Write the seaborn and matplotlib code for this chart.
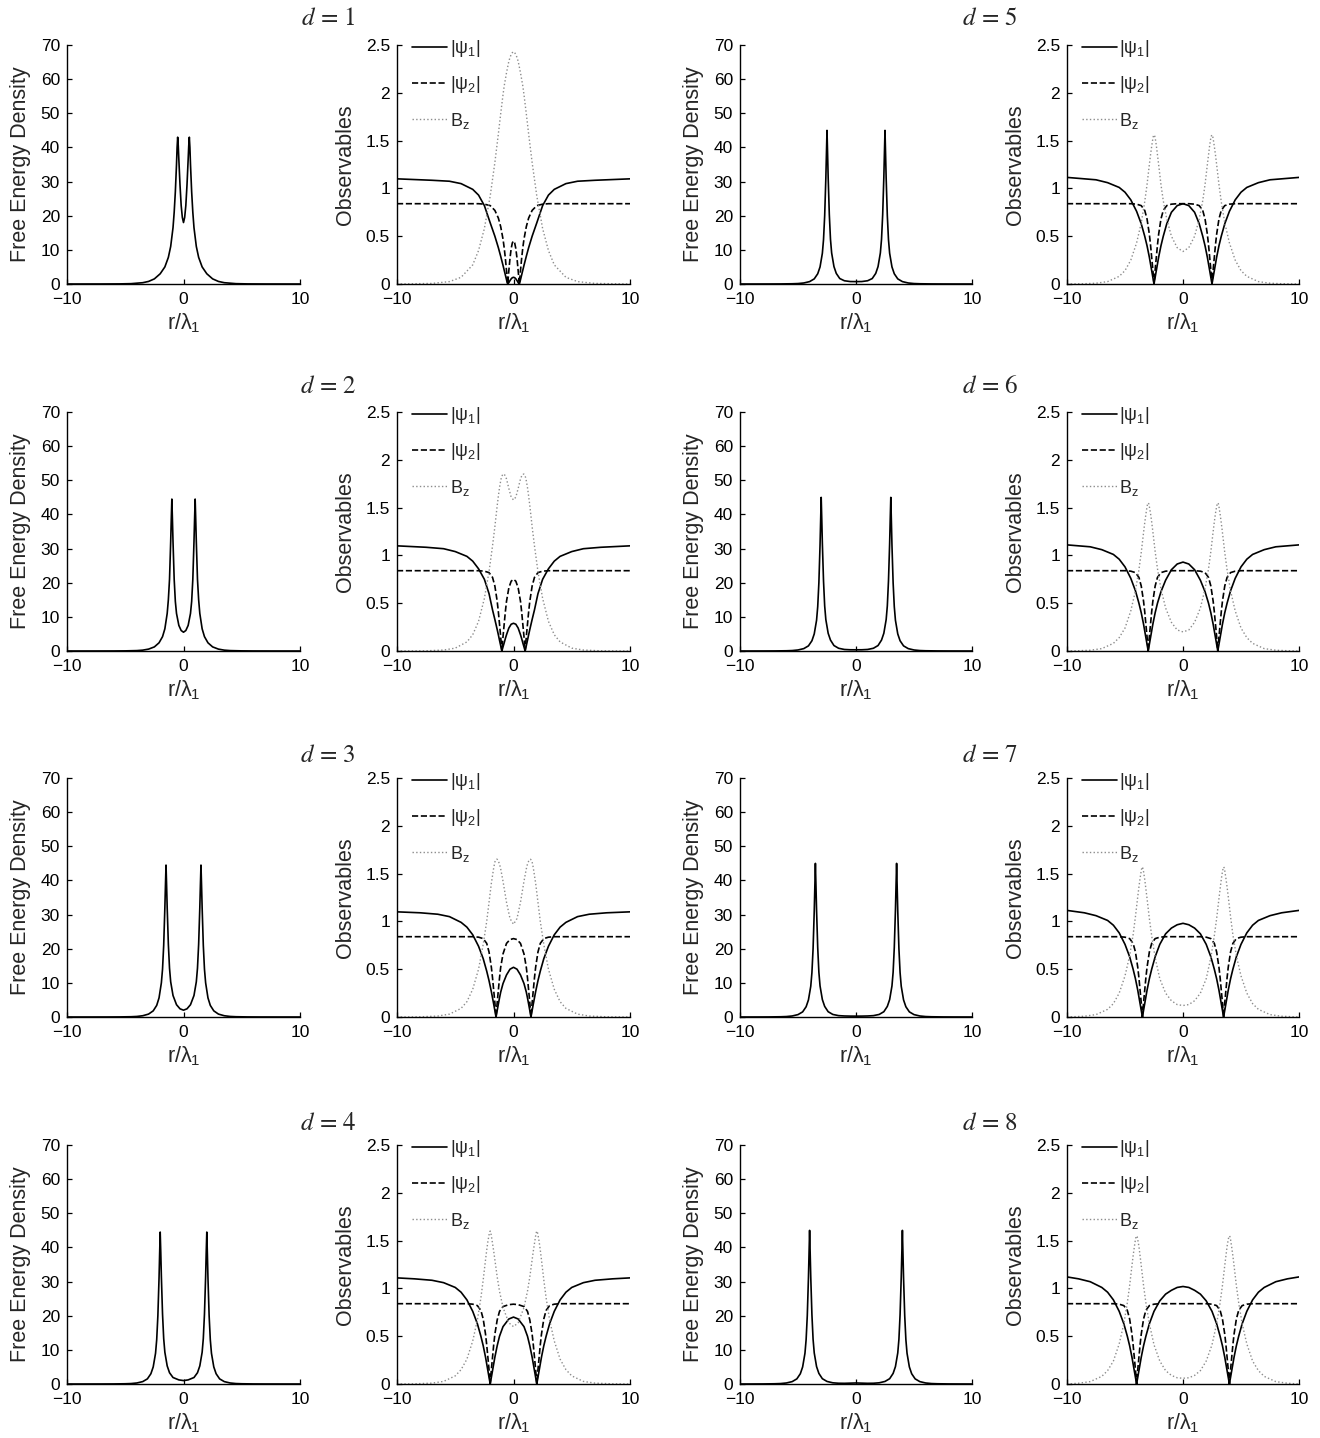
import numpy as np
import matplotlib
matplotlib.use("Agg")
import matplotlib.pyplot as plt
import matplotlib.ticker as mticker
import seaborn as sns

# ---------------- data: half profiles (r >= 0); each panel is mirror-symmetric ----------------
d_values = [1, 2, 3, 4, 5, 6, 7, 8]

r_d1 = [0, 0.1, 0.2, 0.3, 0.4, 0.45, 0.5, 0.55, 0.6, 0.7, 0.8, 0.9, 1.1, 1.3, 1.6, 2.0, 2.5, 3.0, 3.5, 4.5, 5.5, 7.0, 10.0]
fed_d1 = [18, 19.5, 23, 29, 36.5, 40.5, 43, 40, 35, 27, 21, 16.5, 11, 7.8, 5.0, 3.0, 1.5, 0.75, 0.38, 0.1, 0.03, 0.008, 0]
psi1_d1 = [0.07, 0.066, 0.054, 0.036, 0.015, 0.006, 0, 0.02, 0.045, 0.095, 0.145, 0.195, 0.29, 0.38, 0.5, 0.64, 0.82, 0.93, 0.99, 1.05, 1.075, 1.085, 1.1]
psi2_d1 = [0.45, 0.43, 0.37, 0.27, 0.14, 0.07, 0, 0.07, 0.14, 0.27, 0.38, 0.47, 0.6, 0.69, 0.77, 0.82, 0.835, 0.84, 0.84, 0.84, 0.84, 0.84, 0.84]
bz_d1 = [2.43, 2.42, 2.40, 2.37, 2.33, 2.30, 2.27, 2.24, 2.21, 2.14, 2.07, 1.98, 1.78, 1.57, 1.27, 0.92, 0.58, 0.35, 0.2, 0.07, 0.025, 0.006, 0]

r_d2 = [0, 0.2, 0.4, 0.6, 0.7, 0.8, 0.9, 0.95, 1.0, 1.05, 1.1, 1.2, 1.3, 1.4, 1.6, 1.8, 2.1, 2.5, 3.0, 3.5, 4.0, 5.0, 6.0, 7.5, 10.0]
fed_d2 = [5.5, 6.0, 7.5, 11, 14.5, 21, 32, 38.5, 44.5, 38.5, 32, 21, 15, 11, 6.5, 4.2, 2.4, 1.2, 0.55, 0.25, 0.12, 0.04, 0.012, 0.003, 0]
psi1_d2 = [0.29, 0.28, 0.24, 0.17, 0.13, 0.085, 0.043, 0.021, 0, 0.028, 0.056, 0.112, 0.17, 0.225, 0.33, 0.43, 0.6, 0.75, 0.86, 0.94, 0.99, 1.04, 1.07, 1.085, 1.1]
psi2_d2 = [0.75, 0.73, 0.66, 0.52, 0.41, 0.28, 0.15, 0.075, 0, 0.075, 0.15, 0.28, 0.41, 0.52, 0.68, 0.77, 0.82, 0.835, 0.84, 0.84, 0.84, 0.84, 0.84, 0.84, 0.84]
bz_d2 = [1.58, 1.61, 1.7, 1.8, 1.83, 1.85, 1.85, 1.84, 1.83, 1.81, 1.78, 1.71, 1.62, 1.52, 1.3, 1.1, 0.83, 0.55, 0.31, 0.17, 0.095, 0.03, 0.01, 0.002, 0]

r_d3 = [0, 0.3, 0.6, 0.9, 1.1, 1.2, 1.3, 1.4, 1.45, 1.5, 1.55, 1.6, 1.7, 1.8, 1.9, 2.1, 2.3, 2.6, 3.0, 3.5, 4.0, 4.5, 5.5, 6.5, 8.0, 10.0]
fed_d3 = [2.0, 2.4, 3.6, 6.3, 10.3, 14.3, 21.3, 32, 38.5, 44.5, 38.5, 32, 21, 14, 10, 5.6, 3.4, 1.8, 0.85, 0.37, 0.16, 0.08, 0.025, 0.008, 0.002, 0]
psi1_d3 = [0.52, 0.5, 0.44, 0.35, 0.26, 0.2, 0.135, 0.068, 0.034, 0, 0.034, 0.068, 0.135, 0.2, 0.265, 0.38, 0.48, 0.61, 0.74, 0.86, 0.94, 0.99, 1.05, 1.075, 1.09, 1.1]
psi2_d3 = [0.82, 0.81, 0.77, 0.66, 0.52, 0.41, 0.28, 0.15, 0.075, 0, 0.075, 0.15, 0.28, 0.41, 0.52, 0.68, 0.77, 0.82, 0.835, 0.84, 0.84, 0.84, 0.84, 0.84, 0.84, 0.84]
bz_d3 = [0.97, 1.03, 1.2, 1.42, 1.55, 1.6, 1.63, 1.65, 1.65, 1.645, 1.64, 1.62, 1.56, 1.48, 1.4, 1.2, 1.0, 0.76, 0.5, 0.29, 0.16, 0.09, 0.03, 0.01, 0.002, 0]

r_d4 = [0, 0.4, 0.9, 1.2, 1.4, 1.6, 1.7, 1.8, 1.9, 1.95, 2.0, 2.05, 2.1, 2.2, 2.3, 2.4, 2.6, 2.8, 3.1, 3.5, 4.0, 4.5, 5.0, 6.0, 7.0, 8.5, 10.0]
fed_d4 = [1.0, 1.2, 1.9, 3.3, 5.3, 9.3, 13.3, 20.5, 31.5, 38.5, 44.5, 38, 31, 20, 13, 9, 5.0, 3.0, 1.5, 0.7, 0.3, 0.13, 0.07, 0.02, 0.007, 0.002, 0]
psi1_d4 = [0.7, 0.68, 0.6, 0.5, 0.4, 0.28, 0.21, 0.14, 0.07, 0.035, 0, 0.035, 0.07, 0.14, 0.21, 0.28, 0.4, 0.5, 0.63, 0.76, 0.88, 0.96, 1.01, 1.06, 1.085, 1.1, 1.11]
psi2_d4 = [0.835, 0.83, 0.81, 0.76, 0.67, 0.52, 0.41, 0.28, 0.15, 0.075, 0, 0.075, 0.15, 0.28, 0.41, 0.52, 0.68, 0.77, 0.82, 0.835, 0.84, 0.84, 0.84, 0.84, 0.84, 0.84, 0.84]
bz_d4 = [0.6, 0.64, 0.8, 0.97, 1.12, 1.3, 1.39, 1.47, 1.55, 1.58, 1.6, 1.59, 1.56, 1.49, 1.4, 1.3, 1.09, 0.9, 0.67, 0.45, 0.26, 0.15, 0.085, 0.027, 0.009, 0.002, 0]

r_d5 = [0, 0.5, 1.0, 1.4, 1.7, 1.9, 2.1, 2.2, 2.3, 2.4, 2.45, 2.5, 2.55, 2.6, 2.7, 2.8, 2.9, 3.1, 3.3, 3.6, 4.0, 4.5, 5.0, 5.5, 6.5, 7.5, 8.5, 10.0]
fed_d5 = [0.7, 0.72, 0.95, 1.6, 3.1, 5.1, 9.1, 13.1, 20.3, 31.3, 38.3, 45, 38, 31, 20, 13, 9, 5.0, 3.0, 1.5, 0.7, 0.3, 0.13, 0.07, 0.02, 0.007, 0.002, 0]
psi1_d5 = [0.84, 0.82, 0.75, 0.63, 0.5, 0.4, 0.28, 0.21, 0.14, 0.07, 0.035, 0, 0.035, 0.07, 0.14, 0.21, 0.28, 0.4, 0.5, 0.63, 0.76, 0.88, 0.96, 1.01, 1.06, 1.09, 1.1, 1.115]
psi2_d5 = [0.84, 0.84, 0.835, 0.82, 0.77, 0.68, 0.52, 0.41, 0.28, 0.15, 0.075, 0, 0.075, 0.15, 0.28, 0.41, 0.52, 0.68, 0.77, 0.82, 0.835, 0.84, 0.84, 0.84, 0.84, 0.84, 0.84, 0.84]
bz_d5 = [0.34, 0.38, 0.5, 0.68, 0.87, 1.04, 1.25, 1.35, 1.45, 1.53, 1.55, 1.56, 1.55, 1.52, 1.44, 1.35, 1.25, 1.04, 0.86, 0.64, 0.43, 0.25, 0.14, 0.08, 0.025, 0.008, 0.003, 0]

r_d6 = [0, 0.5, 1.0, 1.5, 1.9, 2.2, 2.4, 2.6, 2.7, 2.8, 2.9, 2.95, 3.0, 3.05, 3.1, 3.2, 3.3, 3.4, 3.6, 3.8, 4.1, 4.5, 5.0, 5.5, 6.0, 7.0, 8.0, 9.0, 10.0]
fed_d6 = [0.35, 0.36, 0.45, 0.8, 1.6, 3.2, 5.2, 9.2, 13.2, 20.5, 31.5, 38.5, 45, 38, 31, 20, 13, 9, 5.0, 3.0, 1.5, 0.7, 0.3, 0.13, 0.07, 0.02, 0.007, 0.002, 0]
psi1_d6 = [0.93, 0.91, 0.85, 0.74, 0.62, 0.5, 0.4, 0.28, 0.21, 0.14, 0.07, 0.035, 0, 0.035, 0.07, 0.14, 0.21, 0.28, 0.4, 0.5, 0.63, 0.76, 0.88, 0.96, 1.01, 1.06, 1.09, 1.1, 1.11]
psi2_d6 = [0.84, 0.84, 0.84, 0.835, 0.82, 0.77, 0.68, 0.52, 0.41, 0.28, 0.15, 0.075, 0, 0.075, 0.15, 0.28, 0.41, 0.52, 0.68, 0.77, 0.82, 0.835, 0.84, 0.84, 0.84, 0.84, 0.84, 0.84, 0.84]
bz_d6 = [0.2, 0.22, 0.3, 0.45, 0.65, 0.86, 1.04, 1.25, 1.35, 1.44, 1.51, 1.54, 1.55, 1.54, 1.51, 1.43, 1.34, 1.24, 1.03, 0.85, 0.63, 0.42, 0.24, 0.14, 0.08, 0.025, 0.008, 0.003, 0]

r_d7 = [0, 0.5, 1.0, 1.5, 2.0, 2.4, 2.7, 2.9, 3.1, 3.2, 3.3, 3.4, 3.45, 3.5, 3.55, 3.6, 3.7, 3.8, 3.9, 4.1, 4.3, 4.6, 5.0, 5.5, 6.0, 6.5, 7.5, 8.5, 10.0]
fed_d7 = [0.25, 0.26, 0.3, 0.4, 0.75, 1.55, 3.1, 5.1, 9.1, 13.1, 20.3, 31.3, 38.3, 45, 38, 31, 20, 13, 9, 5.0, 3.0, 1.5, 0.7, 0.3, 0.13, 0.07, 0.02, 0.007, 0]
psi1_d7 = [0.98, 0.965, 0.93, 0.87, 0.76, 0.63, 0.5, 0.4, 0.28, 0.21, 0.14, 0.07, 0.035, 0, 0.035, 0.07, 0.14, 0.21, 0.28, 0.4, 0.5, 0.63, 0.76, 0.88, 0.96, 1.01, 1.06, 1.09, 1.115]
psi2_d7 = [0.84, 0.84, 0.84, 0.84, 0.835, 0.82, 0.77, 0.68, 0.52, 0.41, 0.28, 0.15, 0.075, 0, 0.075, 0.15, 0.28, 0.41, 0.52, 0.68, 0.77, 0.82, 0.835, 0.84, 0.84, 0.84, 0.84, 0.84, 0.84]
bz_d7 = [0.12, 0.13, 0.17, 0.25, 0.4, 0.62, 0.85, 1.03, 1.24, 1.34, 1.44, 1.52, 1.55, 1.57, 1.56, 1.53, 1.45, 1.36, 1.26, 1.05, 0.86, 0.64, 0.43, 0.25, 0.14, 0.08, 0.025, 0.008, 0]

r_d8 = [0, 0.5, 1.0, 1.5, 2.0, 2.5, 2.9, 3.2, 3.4, 3.6, 3.7, 3.8, 3.9, 3.95, 4.0, 4.05, 4.1, 4.2, 4.3, 4.4, 4.6, 4.8, 5.1, 5.5, 6.0, 6.5, 7.0, 8.0, 9.0, 10.0]
fed_d8 = [0.3, 0.25, 0.2, 0.22, 0.35, 0.75, 1.55, 3.1, 5.1, 9.1, 13.1, 20.3, 31.3, 38.3, 45, 38, 31, 20, 13, 9, 5.0, 3.0, 1.5, 0.7, 0.3, 0.13, 0.07, 0.02, 0.007, 0]
psi1_d8 = [1.02, 1.01, 0.98, 0.94, 0.87, 0.76, 0.63, 0.5, 0.4, 0.28, 0.21, 0.14, 0.07, 0.035, 0, 0.035, 0.07, 0.14, 0.21, 0.28, 0.4, 0.5, 0.63, 0.76, 0.88, 0.96, 1.01, 1.07, 1.1, 1.12]
psi2_d8 = [0.84, 0.84, 0.84, 0.84, 0.84, 0.835, 0.82, 0.77, 0.68, 0.52, 0.41, 0.28, 0.15, 0.075, 0, 0.075, 0.15, 0.28, 0.41, 0.52, 0.68, 0.77, 0.82, 0.835, 0.84, 0.84, 0.84, 0.84, 0.84, 0.84]
bz_d8 = [0.06, 0.065, 0.09, 0.14, 0.24, 0.41, 0.63, 0.85, 1.03, 1.24, 1.34, 1.44, 1.51, 1.54, 1.55, 1.54, 1.51, 1.43, 1.34, 1.24, 1.03, 0.85, 0.63, 0.42, 0.24, 0.14, 0.08, 0.025, 0.008, 0]

panels = {
    1: (r_d1, fed_d1, psi1_d1, psi2_d1, bz_d1),
    2: (r_d2, fed_d2, psi1_d2, psi2_d2, bz_d2),
    3: (r_d3, fed_d3, psi1_d3, psi2_d3, bz_d3),
    4: (r_d4, fed_d4, psi1_d4, psi2_d4, bz_d4),
    5: (r_d5, fed_d5, psi1_d5, psi2_d5, bz_d5),
    6: (r_d6, fed_d6, psi1_d6, psi2_d6, bz_d6),
    7: (r_d7, fed_d7, psi1_d7, psi2_d7, bz_d7),
    8: (r_d8, fed_d8, psi1_d8, psi2_d8, bz_d8),
}

fed_ticks = [0, 10, 20, 30, 40, 50, 60, 70]
obs_ticks = [0, 0.5, 1, 1.5, 2, 2.5]
x_ticks = [-10, 0, 10]
legend_labels = [r"$|\psi_1|$", r"$|\psi_2|$", r"$B_z$"]

for d, arrs in panels.items():
    n = len(arrs[0])
    for a in arrs[1:]:
        if len(a) != n:
            raise ValueError(f"length mismatch for d={d}: {n} vs {len(a)}")

# ---------------- style ----------------
sns.set_style("ticks")
plt.rcParams["font.family"] = ["Liberation Sans", "DejaVu Sans"]
plt.rcParams["mathtext.fontset"] = "custom"
plt.rcParams["mathtext.rm"] = "Liberation Sans"
plt.rcParams["mathtext.it"] = "Liberation Sans"
plt.rcParams["mathtext.bf"] = "Liberation Sans:bold"
plt.rcParams["xtick.direction"] = "in"
plt.rcParams["ytick.direction"] = "in"
plt.rcParams["axes.linewidth"] = 1.0
plt.rcParams["axes.edgecolor"] = "black"

W, H = 1320, 1438
fig = plt.figure(figsize=(W / 100, H / 100), dpi=100)

col_x = [(67, 300), (397, 630), (740, 972), (1067, 1299)]
row_top = [45, 412, 778, 1145]
ax_h = 239
title_y = [18, 386, 755, 1123]
title_x = [328, 990]

TICK_FS = 12.5
LABEL_FS = 15.5


def mirror(r, y):
    r = np.asarray(r, float)
    y = np.asarray(y, float)
    return np.concatenate([-r[::-1][:-1], r]), np.concatenate([y[::-1][:-1], y])


def style_axis(ax):
    sns.despine(ax=ax)
    ax.tick_params(axis="both", which="major", length=3.5, width=0.9, labelsize=TICK_FS,
                   colors="black")
    ax.tick_params(axis="x", pad=6)
    ax.tick_params(axis="y", pad=5)
    ax.set_xlim(-10, 10)
    ax.set_xticks(x_ticks)
    ax.xaxis.set_major_formatter(mticker.FuncFormatter(lambda v, _: f"{v:g}".replace("-", "\u2212")))
    ax.yaxis.set_major_formatter(mticker.FuncFormatter(lambda v, _: f"{v:g}"))
    ax.set_xlabel(r"$r/\lambda_1$", fontsize=LABEL_FS, labelpad=3)


for i, d in enumerate(d_values):
    row = i % 4
    pair = i // 4
    r, fed, p1, p2, bz = panels[d]
    top = row_top[row]

    # free energy density panel
    x0, x1 = col_x[2 * pair]
    axf = fig.add_axes([x0 / W, 1 - (top + ax_h) / H, (x1 - x0) / W, ax_h / H])
    rr, yy = mirror(r, fed)
    sns.lineplot(x=rr, y=yy, ax=axf, color="black", linewidth=1.2, estimator=None, sort=False)
    axf.set_ylim(0, 70)
    axf.set_yticks(fed_ticks)
    style_axis(axf)
    axf.set_ylabel("Free Energy Density", fontsize=LABEL_FS, labelpad=7)

    # observables panel
    x0, x1 = col_x[2 * pair + 1]
    axo = fig.add_axes([x0 / W, 1 - (top + ax_h) / H, (x1 - x0) / W, ax_h / H])
    rr, y1 = mirror(r, p1)
    _, y2 = mirror(r, p2)
    _, yb = mirror(r, bz)
    sns.lineplot(x=rr, y=y1, ax=axo, color="black", linewidth=1.2, estimator=None, sort=False,
                 label=legend_labels[0])
    sns.lineplot(x=rr, y=y2, ax=axo, color="black", linewidth=1.2, linestyle="--", estimator=None,
                 sort=False, label=legend_labels[1])
    sns.lineplot(x=rr, y=yb, ax=axo, color="#8c8c8c", linewidth=1.0, linestyle=":", estimator=None,
                 sort=False, label=legend_labels[2])
    axo.set_ylim(0, 2.5)
    axo.set_yticks(obs_ticks)
    style_axis(axo)
    axo.set_ylabel("Observables", fontsize=LABEL_FS, labelpad=7)
    axo.legend(loc="upper left", bbox_to_anchor=(0.02, 1.075), frameon=False, fontsize=13,
               handlelength=1.9, handletextpad=0.15, labelspacing=0.85, borderaxespad=0.2)

    fig.text(title_x[pair] / W, 1 - title_y[row] / H, rf"$d\,=\,{d}$", math_fontfamily="stix",
             fontsize=18, ha="center", va="center")

fig.savefig("out.png", dpi=100)
